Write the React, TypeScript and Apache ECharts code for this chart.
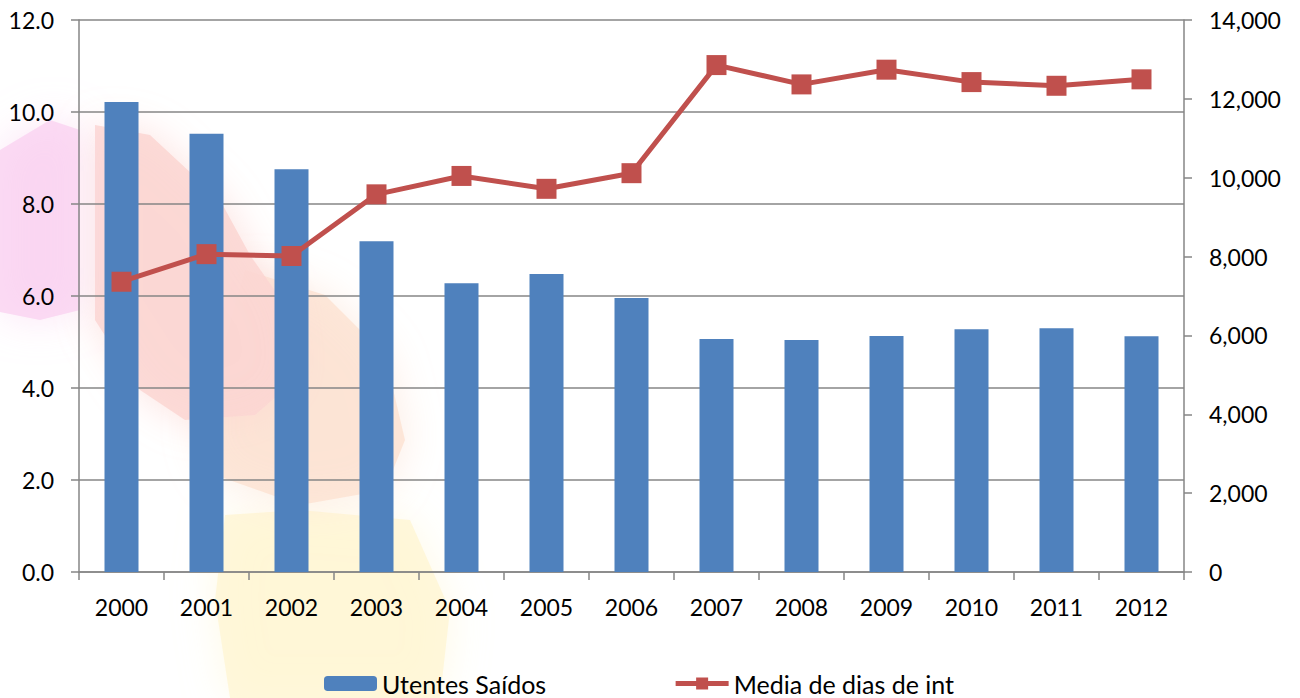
import React, { useEffect, useRef } from "react";
import * as echarts from "echarts";

const categories = ["2000", "2001", "2002", "2003", "2004", "2005", "2006", "2007", "2008", "2009", "2010", "2011", "2012"];
const utentesSaidos = [11920, 11116, 10213, 8387, 7322, 7558, 6949, 5909, 5884, 5986, 6155, 6181, 5978];
const mediaDias = [6.31, 6.91, 6.87, 8.21, 8.61, 8.33, 8.67, 11.02, 10.6, 10.92, 10.65, 10.57, 10.71];

const FONT = "Lato";

export default function App() {
  const ref = useRef<HTMLDivElement>(null);
  useEffect(() => {
    if (!ref.current) return;
    const chart = echarts.init(ref.current, null, { renderer: "svg" });
    const axisGray = "#868686";
    const soft = (fill: string) => ({ fill, shadowBlur: 40, shadowColor: fill });
    chart.setOption({
      animation: false,
      backgroundColor: "#ffffff",
      textStyle: { fontFamily: FONT },
      graphic: [
        {
          type: "polygon", z: -10,
          shape: { points: [[410, 520], [300, 510], [225, 515], [215, 600], [230, 698], [440, 698], [450, 610]] },
          style: soft("rgba(255,246,210,0.75)")
        },
        {
          type: "polygon", z: -10,
          shape: { points: [[245, 270], [325, 295], [385, 355], [405, 440], [385, 490], [300, 505], [215, 475], [200, 430]] },
          style: soft("rgba(252,226,210,0.8)")
        },
        {
          type: "polygon", z: -10,
          shape: { points: [[95, 125], [150, 135], [220, 200], [250, 255], [285, 305], [295, 380], [255, 415], [185, 420], [140, 390], [95, 320]] },
          style: soft("rgba(252,214,210,0.85)")
        },
        {
          type: "polygon", z: -10,
          shape: { points: [[0, 150], [50, 120], [80, 130], [80, 310], [40, 320], [0, 312]] },
          style: soft("rgba(249,208,240,0.75)")
        }
      ],
      grid: { left: 79, right: 116, top: 20, bottom: 126, containLabel: false },
      legend: {
        left: 319,
        top: 666,
        itemWidth: 53,
        itemHeight: 15,
        itemGap: 127,
        lineStyle: { width: 5 },
        textStyle: { fontFamily: FONT, fontSize: 25, color: "#000" },
        data: ["Utentes Saídos", "Media de dias de int"]
      },
      xAxis: {
        type: "category",
        data: categories,
        boundaryGap: true,
        axisLine: { show: true, lineStyle: { color: axisGray, width: 1.5 } },
        axisTick: { show: true, alignWithLabel: false, length: 8, lineStyle: { color: axisGray, width: 1.5 } },
        axisLabel: { color: "#000", fontFamily: FONT, fontSize: 23, margin: 23 },
        splitLine: { show: false }
      },
      yAxis: [
        {
          type: "value",
          min: 0,
          max: 12,
          interval: 2,
          position: "left",
          axisLine: { show: true, lineStyle: { color: axisGray, width: 1.5 } },
          axisTick: { show: true, length: 8, lineStyle: { color: axisGray, width: 1.5 } },
          axisLabel: { color: "#000", fontFamily: FONT, fontSize: 23, margin: 25, formatter: (v: number) => v.toFixed(1) },
          splitLine: { show: true, lineStyle: { color: axisGray, width: 1.5 } }
        },
        {
          type: "value",
          min: 0,
          max: 14000,
          interval: 2000,
          position: "right",
          axisLine: { show: true, lineStyle: { color: axisGray, width: 1.5 } },
          axisTick: { show: true, length: 8, lineStyle: { color: axisGray, width: 1.5 } },
          axisLabel: { color: "#000", fontFamily: FONT, fontSize: 23, margin: 25, formatter: (v: number) => v.toLocaleString("en-US") },
          splitLine: { show: false }
        }
      ],
      series: [
        {
          name: "Utentes Saídos",
          type: "bar",
          yAxisIndex: 1,
          data: utentesSaidos,
          barWidth: 34,
          itemStyle: { color: "#4F81BD" }
        },
        {
          name: "Media de dias de int",
          type: "line",
          yAxisIndex: 0,
          data: mediaDias,
          symbol: "rect",
          symbolSize: 20,
          lineStyle: { color: "#C0504D", width: 5 },
          itemStyle: { color: "#C0504D" }
        }
      ]
    });
    return () => chart.dispose();
  }, []);
  return <div ref={ref} style={{ position: "fixed", left: 0, top: 0, width: 1300, height: 698 }} />;
}
